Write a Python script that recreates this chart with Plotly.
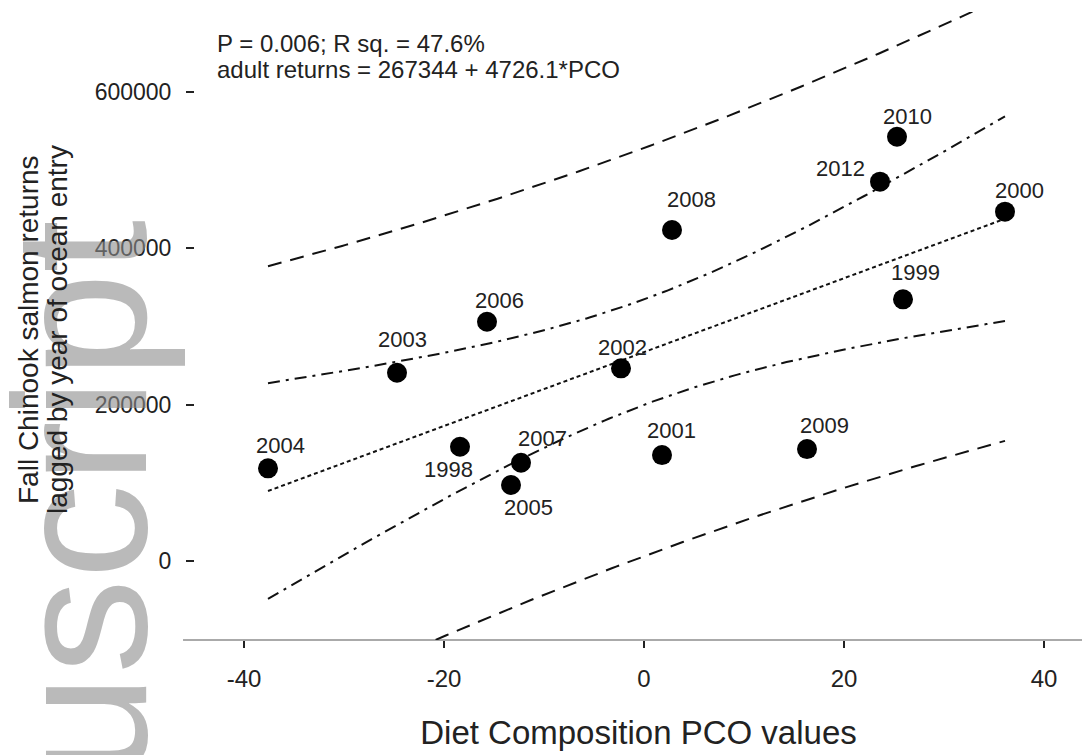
import numpy as np
import plotly.graph_objects as go

# ---- data ----
years = ["2004", "2003", "2006", "1998", "2007", "2005", "2002",
         "2001", "2008", "2009", "2012", "2010", "1999", "2000"]
pco = [-37.6, -24.7, -15.7, -18.4, -12.3, -13.3, -2.3,
       1.8, 2.8, 16.3, 23.6, 25.3, 25.9, 36.1]
returns = [118600, 241000, 306200, 146300, 125800, 97300, 246600,
           135600, 423600, 143300, 485400, 542900, 334900, 447000]

intercept = 267344
slope = 4726.1
stats_line1 = "P = 0.006; R sq. = 47.6%"
stats_line2 = "adult returns = 267344 + 4726.1*PCO"

x_ticks = [-40, -20, 0, 20, 40]
x_tick_text = ["-40", "-20", "0", "20", "40"]
y_ticks = [0, 200000, 400000, 600000]
y_tick_text = ["0", "200000", "400000", "600000"]

T_CRIT = 2.179  # t(0.975, df=12)

# ---- regression bands computed from the data ----
x = np.array(pco, dtype=float)
y = np.array(returns, dtype=float)
n = len(x)
resid = y - (intercept + slope * x)
s = np.sqrt(np.sum(resid ** 2) / (n - 2))
xm = x.mean()
sxx = np.sum((x - xm) ** 2)
xg = np.linspace(x.min(), x.max(), 200)
yg = intercept + slope * xg
conf = T_CRIT * s * np.sqrt(1.0 / n + (xg - xm) ** 2 / sxx)
pred = T_CRIT * s * np.sqrt(1.0 + 1.0 / n + (xg - xm) ** 2 / sxx)

# label offsets in pixels (dx, dy) - layout only
label_offsets = {
    "2004": (12, 23), "2003": (5, 33), "2006": (12, 21), "1998": (-12, -23),
    "2007": (21, 24), "2005": (17, -22), "2002": (1, 21), "2001": (9, 25),
    "2008": (19, 30), "2009": (17, 24), "2012": (-40, 13), "2010": (10, 20),
    "1999": (12, 27), "2000": (14, 21),
}

LINE_COL = "#111111"
TXT_COL = "#222222"
FONT = "Liberation Sans, Arial, sans-serif"

fig = go.Figure()

# prediction band
for sign in (1, -1):
    fig.add_trace(go.Scatter(x=xg, y=yg + sign * pred, mode="lines",
                             line=dict(color=LINE_COL, width=2, dash="14px,9px"),
                             hoverinfo="skip", showlegend=False))
# confidence band
for sign in (1, -1):
    fig.add_trace(go.Scatter(x=xg, y=yg + sign * conf, mode="lines",
                             line=dict(color=LINE_COL, width=2, dash="12px,6px,3px,6px"),
                             hoverinfo="skip", showlegend=False))
# regression line
fig.add_trace(go.Scatter(x=xg, y=yg, mode="lines",
                         line=dict(color=LINE_COL, width=2, dash="4px,3px"),
                         hoverinfo="skip", showlegend=False))
# points
fig.add_trace(go.Scatter(x=pco, y=returns, mode="markers",
                         marker=dict(color="black", size=20),
                         text=years, hoverinfo="text", showlegend=False))

annotations = []
# watermark (drawn first so other text sits above it)
annotations.append(dict(
    text="uscript", xref="paper", yref="paper", x=-0.130, y=(640 - 218) / 628,
    xanchor="center", yanchor="top", textangle=-90, showarrow=False,
    font=dict(family=FONT, size=190, color="rgba(140,140,140,0.6)"),
))

for yr, xv, yv in zip(years, pco, returns):
    dx, dy = label_offsets[yr]
    annotations.append(dict(
        x=xv, y=yv, xref="x", yref="y", text=yr, showarrow=False,
        xshift=dx, yshift=dy, xanchor="center", yanchor="middle",
        font=dict(family=FONT, size=22, color=TXT_COL),
    ))

annotations.append(dict(
    text=stats_line1, xref="paper", yref="paper",
    x=0.022, y=(640 - 43) / 628, xanchor="left", yanchor="middle",
    showarrow=False, font=dict(family=FONT, size=24, color=TXT_COL),
))
annotations.append(dict(
    text=stats_line2, xref="paper", yref="paper",
    x=0.022, y=(640 - 70) / 628, xanchor="left", yanchor="middle",
    showarrow=False, font=dict(family=FONT, size=24, color=TXT_COL),
))

# y-axis title as two rotated lines
annotations.append(dict(
    text="Fall Chinook salmon returns", xref="paper", yref="paper",
    x=(28 - 195) / 887, y=(640 - 330) / 628, xanchor="center", yanchor="middle",
    textangle=-90, showarrow=False, font=dict(family=FONT, size=28, color=TXT_COL),
))
annotations.append(dict(
    text="lagged by year of ocean entry", xref="paper", yref="paper",
    x=(57 - 195) / 887, y=(640 - 330) / 628, xanchor="center", yanchor="middle",
    textangle=-90, showarrow=False, font=dict(family=FONT, size=28, color=TXT_COL),
))

fig.update_layout(
    width=1082, height=755,
    margin=dict(l=195, r=0, t=12, b=115),
    paper_bgcolor="white", plot_bgcolor="white",
    annotations=annotations,
    shapes=[dict(type="line", xref="paper", yref="paper",
                 x0=-0.0135, x1=1, y0=0, y1=0,
                 line=dict(color="#aaaaaa", width=2), layer="below")],
    xaxis=dict(
        range=[-44.9, 43.8], tickvals=x_ticks, ticktext=x_tick_text,
        showgrid=False, zeroline=False, showline=False, automargin=False,
        ticks="outside", ticklen=7, tickwidth=2, tickcolor=TXT_COL,
        ticklabelstandoff=10,
        tickfont=dict(family=FONT, size=24, color=TXT_COL),
        title=dict(text="Diet Composition PCO values",
                   font=dict(family=FONT, size=33, color=TXT_COL), standoff=30),
    ),
    yaxis=dict(
        range=[-101000, 702500], tickvals=y_ticks, ticktext=y_tick_text,
        showgrid=False, zeroline=False, showline=False, automargin=False,
        ticks="outside", ticklen=8, tickwidth=2, tickcolor=TXT_COL,
        ticklabelstandoff=10,
        tickfont=dict(family=FONT, size=23, color=TXT_COL),
    ),
)

fig.write_html("out.html",
               config={"displayModeBar": False},
               post_script="document.body.style.margin='0';document.body.style.overflow='hidden';")
